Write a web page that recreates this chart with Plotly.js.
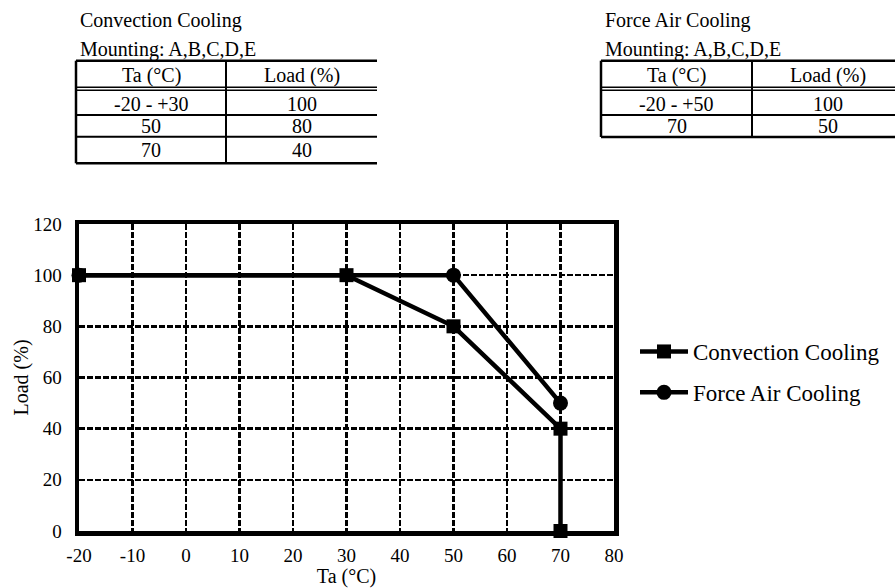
<!DOCTYPE html>
<html>
<head>
<meta charset="utf-8">
<script src="https://cdn.plot.ly/plotly-3.0.1.min.js"></script>
<style>html,body{margin:0;padding:0;background:#fff;}#chart{width:895px;height:588px;}</style>
</head>
<body>
<div id="chart"></div>
<script>
// ---- data ----
var convTa = [-20, 30, 50, 70, 70];
var convLoad = [100, 100, 80, 40, 0];
var forceTa = [-20, 50, 70];
var forceLoad = [100, 100, 50];
var seriesNames = ["Convection Cooling", "Force Air Cooling"];
var xTicks = [-20, -10, 0, 10, 20, 30, 40, 50, 60, 70, 80];
var xTickLabels = ["-20", "-10", "0", "10", "20", "30", "40", "50", "60", "70", "80"];
var yTicks = [0, 20, 40, 60, 80, 100, 120];
var yTickLabels = ["0", "20", "40", "60", "80", "100", "120"];

// table contents
var tableHeader = ["Ta (°C)", "Load (%)"];
var convRows = [["-20 - +30", "100"], ["50", "80"], ["70", "40"]];
var forceRows = [["-20 - +50", "100"], ["70", "50"]];
var mountingText = "Mounting: A,B,C,D,E";

// ---- layout geometry (pixels) ----
var W = 895, H = 588;
var M = {l: 79, r: 281, t: 224, b: 57, autoexpand: false};
var pw = W - M.l - M.r, ph = H - M.t - M.b;
function px(x) { return (x - M.l) / pw; }
function py(y) { return (H - M.b - y) / ph; }

var FONT = "Liberation Serif, Times New Roman, serif";
var shapes = [], annotations = [];

function hline(x0, x1, y, w) {
  shapes.push({type: "line", xref: "paper", yref: "paper", x0: px(x0), x1: px(x1), y0: py(y), y1: py(y),
    line: {color: "#000", width: w}});
}
function vline(x, y0, y1, w) {
  shapes.push({type: "line", xref: "paper", yref: "paper", x0: px(x), x1: px(x), y0: py(y0), y1: py(y1),
    line: {color: "#000", width: w}});
}
function text(t, x, y, anchor) {
  annotations.push({text: t, xref: "paper", yref: "paper", x: px(x), y: py(y), xanchor: anchor || "center",
    yanchor: "middle", showarrow: false, font: {family: FONT, size: 20, color: "#000"}});
}

function drawTable(title, rows, left, mid, right, rowLines) {
  text(title, left + 2, 21, "left");
  text(mountingText, left + 2, 49, "left");
  var top = rowLines[0], bottom = rowLines[rowLines.length - 1];
  hline(left, right, top, 2.5);
  hline(left, right, 87.3, 1.6);
  hline(left, right, 90.2, 1.6);
  for (var i = 2; i < rowLines.length - 1; i++) hline(left, right, rowLines[i], 2);
  hline(left, right, bottom, 2.5);
  vline(left, top, bottom, 2.5);
  vline(mid, top, bottom, 2);
  var c1 = (left + mid) / 2, c2 = (mid + right) / 2;
  text(tableHeader[0], c1, (top + 87.3) / 2 + 1);
  text(tableHeader[1], c2, (top + 87.3) / 2 + 1);
  for (var r = 0; r < rows.length; r++) {
    var yc = (rowLines[r + 1] + rowLines[r + 2]) / 2 + (r === 0 ? 1 : 0);
    text(rows[r][0], c1, yc);
    text(rows[r][1], c2, yc);
  }
}
drawTable("Convection Cooling", convRows, 76, 226, 377, [60.7, 90.2, 115, 136.7, 163.3]);
drawTable("Force Air Cooling", forceRows, 601, 752, 903, [60.7, 90.2, 115, 137]);

var traces = [
  {x: forceTa, y: forceLoad, name: seriesNames[1], mode: "lines+markers", cliponaxis: false,
   line: {color: "#000", width: 4.5}, marker: {symbol: "circle", size: 15, color: "#000"},
   legendrank: 2, legendgroup: "b"},
  {x: convTa, y: convLoad, name: seriesNames[0], mode: "lines+markers", cliponaxis: false,
   line: {color: "#000", width: 4.5}, marker: {symbol: "square", size: 14, color: "#000"},
   legendrank: 1, legendgroup: "a"}
];

var axisCommon = {
  showgrid: true, gridcolor: "#000", gridwidth: 2.5, griddash: "6px,2px",
  showline: true, linecolor: "#000", linewidth: 4.5, mirror: true,
  zeroline: false, ticks: "", fixedrange: true,
  tickfont: {family: FONT, size: 19, color: "#000"}
};

var layout = {
  width: W, height: H, margin: M, paper_bgcolor: "#fff", plot_bgcolor: "#fff",
  font: {family: FONT, color: "#000"},
  showlegend: true,
  legend: {x: px(635), y: py(372), xanchor: "left", yanchor: "middle", bgcolor: "rgba(0,0,0,0)",
    font: {family: FONT, size: 23, color: "#000"}, tracegroupgap: 8, itemwidth: 48},
  xaxis: Object.assign({}, axisCommon, {range: [-20, 80], tickvals: xTicks, ticktext: xTickLabels,
    ticklabelstandoff: 4,
    title: {text: "Ta (°C)", font: {family: FONT, size: 20, color: "#000"}, standoff: 2}}),
  yaxis: Object.assign({}, axisCommon, {range: [0, 120], tickvals: yTicks, ticktext: yTickLabels,
    ticklabelstandoff: 9,
    title: {text: "Load (%)", font: {family: FONT, size: 20, color: "#000"}, standoff: 0}}),
  shapes: shapes,
  annotations: annotations
};

Plotly.newPlot("chart", traces, layout, {displayModeBar: false, staticPlot: true});
</script>
</body>
</html>
